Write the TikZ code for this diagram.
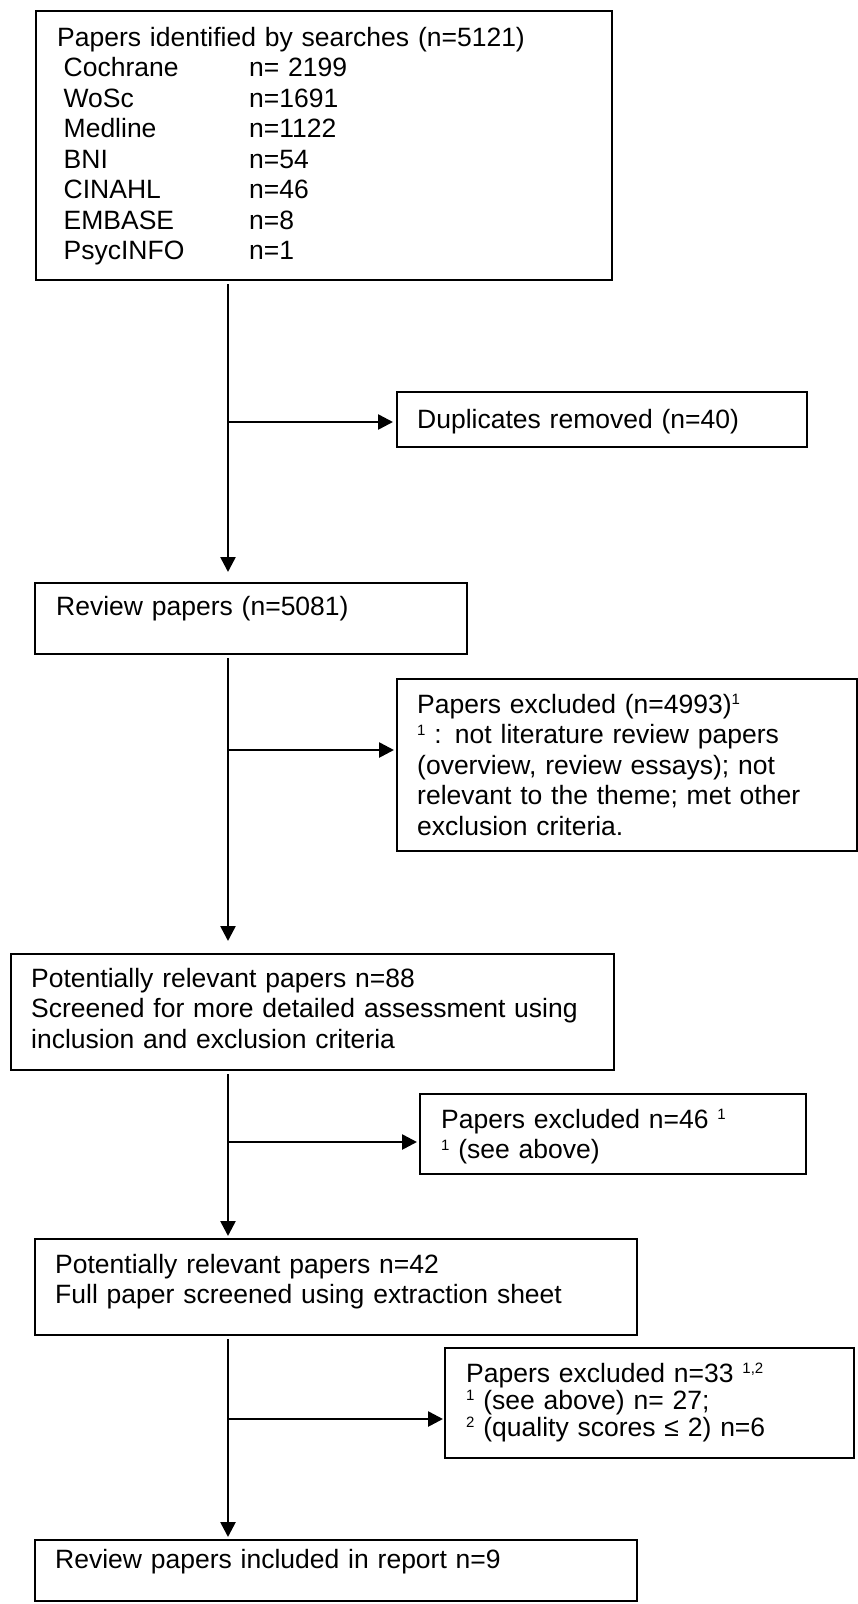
\documentclass[tikz,border=0pt]{standalone}
\usepackage{fontspec}
\setmainfont{Liberation Sans}
\usetikzlibrary{arrows.meta}

% one row of the search list: source, then its count
\newcommand{\srcrow}[2]{\hspace*{6.5pt}\makebox[185.5pt][l]{#1}#2}
% small raised footnote mark
\newcommand{\fnmark}[1]{\raisebox{8.5pt}{\fontsize{15}{15}\selectfont #1}}

\begin{document}
\begin{tikzpicture}[x=1pt, y=-1pt,
    box/.style={draw, line width=2pt, anchor=north west, inner sep=0pt},
    txt/.style={anchor=base west, inner sep=0pt, text width=600pt, align=left,
        font=\fontsize{26.5}{30.5}\selectfont},
    arr/.style={line width=2.6pt, -{Triangle[length=15pt, width=15pt]}}]
    \useasboundingbox (0,0) rectangle (858,1604);
    % boxes on the main line
    \node[box, minimum width=576pt, minimum height=269pt] (search) at (35,10) {};
    \node[box, minimum width=432pt, minimum height=71pt] (review) at (34,582) {};
    \node[box, minimum width=603pt, minimum height=116pt] (pr1) at (10,953) {};
    \node[box, minimum width=602pt, minimum height=96pt] (pr2) at (34,1238) {};
    \node[box, minimum width=602pt, minimum height=61pt] (final) at (34,1539) {};
    % boxes on the right
    \node[box, minimum width=410pt, minimum height=55pt] (dup) at (396,391) {};
    \node[box, minimum width=460pt, minimum height=172pt] (excl1) at (396,678) {};
    \node[box, minimum width=386pt, minimum height=80pt] (excl2) at (419,1093) {};
    \node[box, minimum width=409pt, minimum height=110pt] (excl3) at (444,1347) {};
    % texts of the main line
    \node[txt] (searchtxt) at (57,46) {Papers identified by searches (n=5121)\\
        \srcrow{Cochrane}{n= 2199}\\
        \srcrow{WoSc}{n=1691}\\
        \srcrow{Medline}{n=1122}\\
        \srcrow{BNI}{n=54}\\
        \srcrow{CINAHL}{n=46}\\
        \srcrow{EMBASE}{n=8}\\
        \srcrow{PsycINFO}{n=1}};
    \node[txt] (reviewtxt) at (56,615) {Review papers (n=5081)};
    \node[txt] (pr1txt) at (31,987) {Potentially relevant papers n=88\\
        Screened for more detailed assessment using\\
        inclusion and exclusion criteria};
    \node[txt] (pr2txt) at (55,1273) {Potentially relevant papers n=42\\
        Full paper screened using extraction sheet};
    \node[txt] (finaltxt) at (55,1568) {Review papers included in report n=9};
    % texts on the right
    \node[txt] (duptxt) at (417,428) {Duplicates removed (n=40)};
    \node[txt] (excl1txt) at (417,713) {Papers excluded (n=4993)\fnmark{1}\\
        \fnmark{1} : not literature review papers\\
        (overview, review essays); not\\
        relevant to the theme; met other\\
        exclusion criteria.};
    \node[txt] (excl2txt) at (441,1128) {Papers excluded n=46 \fnmark{1}\\
        \fnmark{1} (see above)};
    \node[txt, font=\fontsize{26.5}{27}\selectfont] (excl3txt) at (466,1382) {Papers excluded n=33 \fnmark{1,2}\\
        \fnmark{1} (see above) n= 27;\\
        \fnmark{2} (quality scores ≤ 2) n=6};
    % main flow
    \coordinate (spine) at (228,0);
    \draw[arr, shorten <=3pt, shorten >=10pt] (search.south -| spine) -- (review.north -| spine);
    \draw[arr, shorten <=3pt, shorten >=12pt] (review.south -| spine) -- (pr1.north -| spine);
    \draw[arr, shorten <=3pt, shorten >=2pt] (pr1.south -| spine) -- (pr2.north -| spine);
    \draw[arr, shorten <=3pt, shorten >=2pt] (pr2.south -| spine) -- (final.north -| spine);
    % side branches
    \coordinate (b1) at (228,422);
    \coordinate (b2) at (228,750);
    \coordinate (b3) at (228,1142);
    \coordinate (b4) at (228,1419);
    \draw[arr, shorten >=3pt] (b1) -- (b1 -| dup.west);
    \draw[arr, shorten >=2pt] (b2) -- (b2 -| excl1.west);
    \draw[arr, shorten >=2pt] (b3) -- (b3 -| excl2.west);
    \draw[arr, shorten >=1pt] (b4) -- (b4 -| excl3.west);
\end{tikzpicture}
\end{document}
